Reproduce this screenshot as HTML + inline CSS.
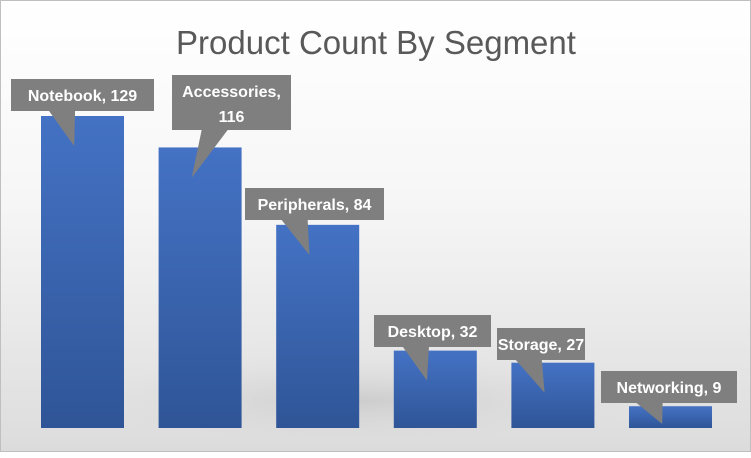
<!DOCTYPE html>
<html><head><meta charset="utf-8"><style>
body{margin:0;width:751px;height:452px;overflow:hidden;font-family:"Liberation Sans",sans-serif}
#c{position:absolute;left:0;top:0;width:749px;height:450px;border:1px solid #bfbfbf;background:linear-gradient(#ffffff 0%,#f6f6f6 45%,#dcdcdc 100%)}
</style></head><body>
<div id="c">
<svg width="751" height="452" id="svg">
<defs>
<linearGradient id="bg" x1="0" y1="0" x2="0" y2="1"><stop offset="0" stop-color="#4472c4"/><stop offset="1" stop-color="#2f5597"/></linearGradient>
<radialGradient id="sh" cx="0.5" cy="0.5" r="0.5"><stop offset="0" stop-color="#c8c8c8" stop-opacity="0.8"/><stop offset="1" stop-color="#e0e0e0" stop-opacity="0"/></radialGradient>
</defs>
<ellipse cx="360" cy="400" rx="300" ry="50" fill="url(#sh)"/>
<text x="375" y="53" text-anchor="middle" font-size="33" fill="#595959">Product Count By Segment</text>
<g id="bars"></g><g id="labels"></g>
</svg></div>
<script>
const categories=["Notebook","Accessories","Peripherals","Desktop","Storage","Networking"];
const values=[129,116,84,32,27,9];
const ns="http://www.w3.org/2000/svg";
const base=427,scale=312/129,x0=40,step=117.6,bw=83;
function xs(i){return x0+i*step}
function ys(v){return base-v*scale}
const boxes=[[10,78,143,32],[171,74,119,55],[244,187,139,32],[373,314,117,32],[496,327,88,32],[600,370,136,32]];
const bars=document.getElementById('bars'),labels=document.getElementById('labels');
values.forEach((v,i)=>{
 const r=document.createElementNS(ns,'rect');
 r.setAttribute('x',xs(i));r.setAttribute('y',ys(v));r.setAttribute('width',bw);r.setAttribute('height',base-ys(v));r.setAttribute('fill','url(#bg)');
 
 
 bars.appendChild(r);
 const [bx,by,w,h]=boxes[i];
 const px=xs(i)+bw*0.4, py=Math.min(ys(v)+30,base-4);
 const g=document.createElementNS(ns,'g');
 
 
 const cx=bx+w*0.35;
 const t=document.createElementNS(ns,'polygon');
 t.setAttribute('points',`${cx-12},${by+h} ${cx+14},${by+h} ${px},${py}`);
 t.setAttribute('fill','#7f7f7f');g.appendChild(t);
 const b=document.createElementNS(ns,'rect');
 b.setAttribute('x',bx);b.setAttribute('y',by);b.setAttribute('width',w);b.setAttribute('height',h);b.setAttribute('fill','#7f7f7f');g.appendChild(b);
 const lines=i==1?[categories[i]+',',String(v)]:[categories[i]+', '+v];
 lines.forEach((s,k)=>{
  const tx=document.createElementNS(ns,'text');
  tx.setAttribute('x',bx+w/2);tx.setAttribute('y',by+22+k*25);tx.setAttribute('text-anchor','middle');
  tx.setAttribute('font-size','16');tx.setAttribute('font-weight','bold');tx.setAttribute('fill','#fff');
  tx.textContent=s;g.appendChild(tx);
 });
 labels.appendChild(g);
});
</script>
</body></html>
